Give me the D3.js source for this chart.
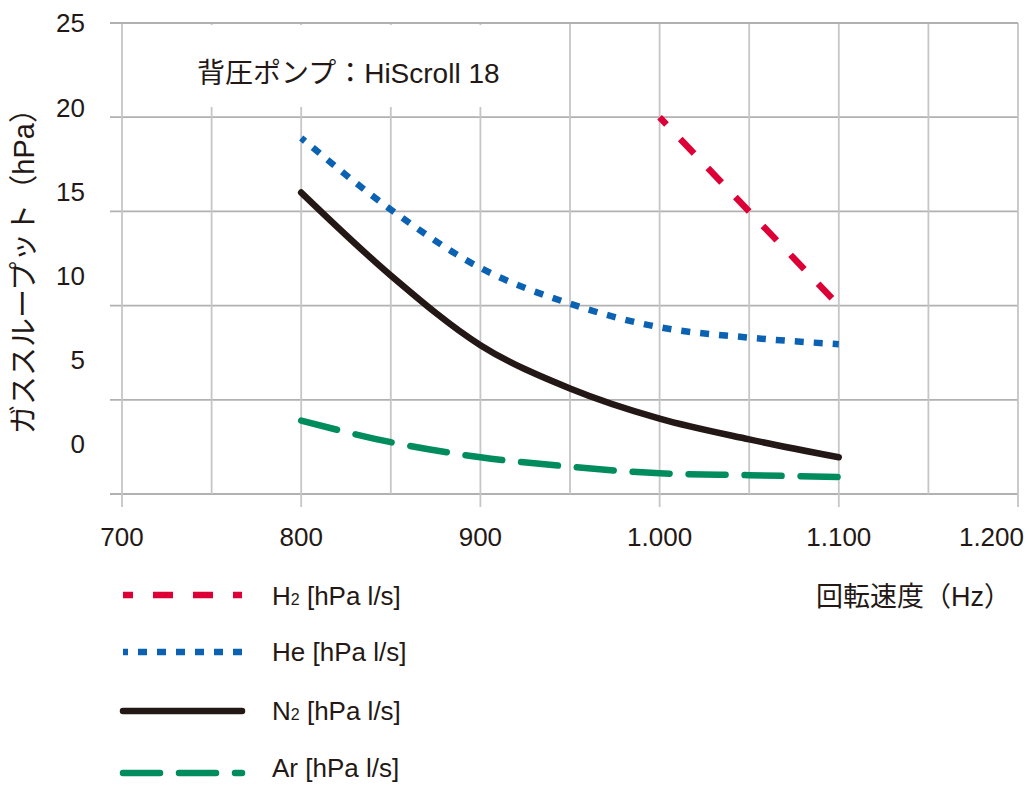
<!DOCTYPE html>
<html><head><meta charset="utf-8">
<script src="https://cdn.jsdelivr.net/npm/d3@7"></script>
<style>
body{margin:0;background:#fff;}
svg{display:block;}
text{font-family:"Liberation Sans",Arial,"Noto Sans CJK JP",sans-serif;fill:#231815;}
.jp{font-family:"Liberation Sans","Noto Sans CJK JP",sans-serif;}
</style></head>
<body>
<svg id="chart" width="1029" height="787"></svg>
<script>
const speeds = [800, 850, 900, 950, 1000, 1050, 1100];
const h2Speeds = [1000, 1050, 1100];
const h2Values = [20, 15, 10];
const heValues = [18.9, 15.1, 12.0, 10.1, 8.85, 8.3, 7.95];
const n2Values = [16.0, 11.6, 7.9, 5.6, 4.0, 2.9, 1.95];
const arValues = [3.9, 2.75, 1.95, 1.45, 1.1, 1.0, 0.9];
const xTicks = [700, 800, 900, 1000, 1100, 1200];
const xGrid = [700, 750, 800, 850, 900, 950, 1000, 1050, 1100, 1150, 1200];
const yTicks = [0, 5, 10, 15, 20, 25];
const seriesNames = ["H₂ [hPa l/s]", "He [hPa l/s]", "N₂ [hPa l/s]", "Ar [hPa l/s]"];
const titleText = "背圧ポンプ：HiScroll 18";
const xTitle = "回転速度（Hz）";
const yTitle = "ガススループット（hPa）";

const svg = d3.select("#chart");
const x = d3.scaleLinear().domain([700, 1200]).range([122, 1018]);
const y = d3.scaleLinear().domain([0, 25]).range([494, 23]);
// tick labels in the original sit on a compressed scale
const yLab = d3.scaleLinear().domain([0, 25]).range([444, 23]);

const locale = d3.formatLocale({decimal: ",", thousands: ".", grouping: [3], currency: ["", ""]});
const fmt = locale.format(",d");

// horizontal gridlines
svg.append("g").selectAll("line").data(yTicks).join("line")
  .attr("x1", 110).attr("x2", x(1200))
  .attr("y1", d => y(d)).attr("y2", d => y(d))
  .attr("stroke", "#b1b1b1").attr("stroke-width", 1.8);
// vertical gridlines
svg.append("g").selectAll("line").data(xGrid).join("line")
  .attr("x1", d => x(d)).attr("x2", d => x(d))
  .attr("y1", y(25)).attr("y2", d => xTicks.includes(d) ? 507 : y(0))
  .attr("stroke", "#c6c6c6").attr("stroke-width", 1.8);
// title background
svg.append("rect").attr("x", 126).attr("y", 25).attr("width", 410).attr("height", 82).attr("fill", "#fff");
svg.append("line").attr("x1", 110).attr("x2", x(1200)).attr("y1", y(25)).attr("y2", y(25))
  .attr("stroke", "#b1b1b1").attr("stroke-width", 1.8);

svg.append("text").attr("class", "jp").attr("x", 197).attr("y", 83)
  .attr("font-size", 28).text(titleText);

// tick labels
svg.append("g").selectAll("text").data(yTicks).join("text")
  .attr("x", 85).attr("y", d => yLab(d)).attr("dy", "0.36em")
  .attr("text-anchor", "end").attr("font-size", 26).text(d => d);
svg.append("g").selectAll("text").data(xTicks).join("text")
  .attr("x", d => d === 1200 ? 1024 : x(d)).attr("y", 546)
  .attr("text-anchor", d => d === 1200 ? "end" : "middle").attr("font-size", 26).text(d => fmt(d));

svg.append("text").attr("class", "jp").attr("x", 1011).attr("y", 606)
  .attr("text-anchor", "end").attr("font-size", 27).text(xTitle);
svg.append("text").attr("class", "jp")
  .attr("transform", "translate(34,264) rotate(-90)")
  .attr("text-anchor", "middle").attr("font-size", 29).text(yTitle);

const styles = [
  {color: "#dc0037", dash: "20,20", offset: 10, cap: "butt"},
  {color: "#0b62b3", dash: "9,10", offset: 4, cap: "butt"},
  {color: "#231815", dash: null, offset: 0, cap: "round"},
  {color: "#008c5c", dash: "37,19", offset: 0, cap: "round"}
];
const curveLine = d3.line().x(d => x(d[0])).y(d => y(d[1])).curve(d3.curveMonotoneX);
const straightLine = d3.line().x(d => x(d[0])).y(d => y(d[1]));
const data = [
  d3.zip(h2Speeds, h2Values),
  d3.zip(speeds, heValues),
  d3.zip(speeds, n2Values),
  d3.zip(speeds, arValues)
];
data.forEach((pts, i) => {
  const s = styles[i];
  svg.append("path").attr("d", i === 0 ? straightLine(pts) : curveLine(pts))
    .attr("fill", "none").attr("stroke", s.color).attr("stroke-width", 6.5)
    .attr("stroke-linecap", s.cap).attr("stroke-linejoin", "round")
    .attr("stroke-dasharray", s.dash).attr("stroke-dashoffset", s.offset);
});

// legend
const legY = [595, 652, 711, 773];
const legTextY = [596, 652, 711, 768];
seriesNames.forEach((name, i) => {
  const s = styles[i];
  const g = svg.append("g");
  g.append("line").attr("x1", 123).attr("x2", 242)
    .attr("y1", legY[i]).attr("y2", legY[i])
    .attr("stroke", s.color).attr("stroke-width", 6.5).attr("stroke-linecap", s.cap)
    .attr("stroke-dasharray", s.dash).attr("stroke-dashoffset", s.offset);
  const t = g.append("text").attr("x", 272).attr("y", legTextY[i]).attr("dy", "0.36em").attr("font-size", 26);
  if (name.includes("₂")) {
    const parts = name.split("₂");
    t.append("tspan").text(parts[0]);
    t.append("tspan").attr("font-size", 16).text("2");
    t.append("tspan").text(parts[1]);
  } else {
    t.text(name);
  }
});
</script>
</body></html>
